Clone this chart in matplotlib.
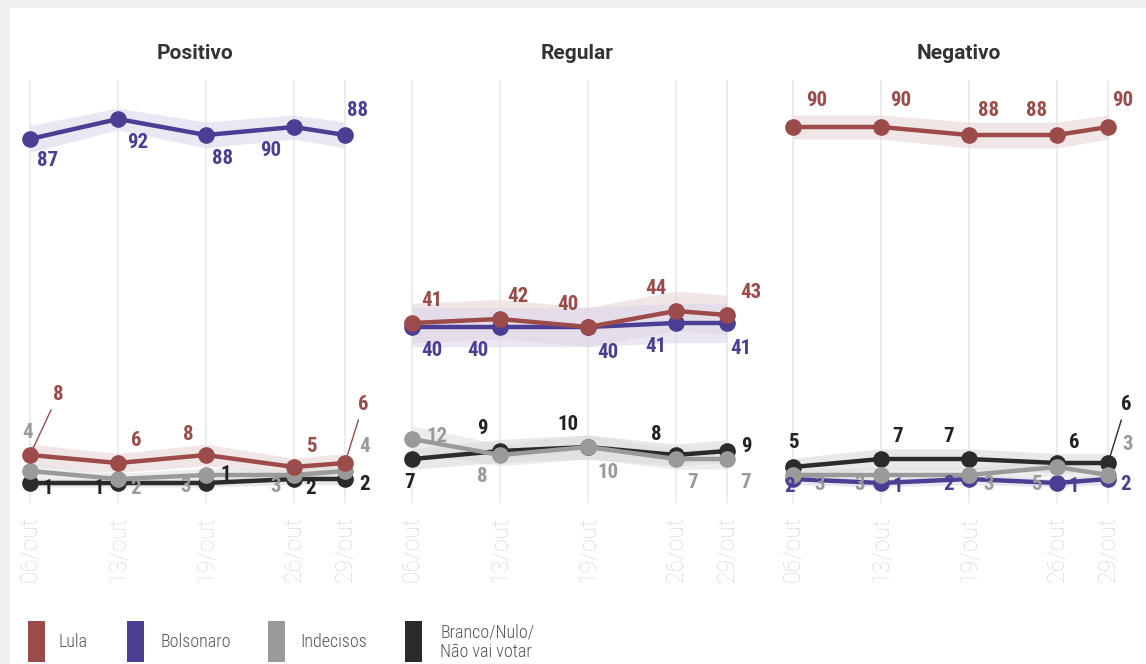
import numpy as np
import matplotlib.pyplot as plt
from matplotlib.patches import Rectangle

# datas das pesquisas
datas = ['06/out', '13/out', '19/out', '26/out', '29/out']
paineis = ['Positivo', 'Regular', 'Negativo']
series = ['Lula', 'Bolsonaro', 'Indecisos', 'Branco/Nulo/\nNão vai votar']

# intenção de voto (%) por avaliação do governo
lula_pos = [8, 6, 8, 5, 6]
bolso_pos = [87, 92, 88, 90, 88]
indec_pos = [4, 2, 3, 3, 4]
branco_pos = [1, 1, 1, 2, 2]

lula_reg = [41, 42, 40, 44, 43]
bolso_reg = [40, 40, 40, 41, 41]
indec_reg = [12, 8, 10, 7, 7]
branco_reg = [7, 9, 10, 8, 9]

lula_neg = [90, 90, 88, 88, 90]
bolso_neg = [2, 1, 2, 1, 2]
indec_neg = [3, 3, 3, 5, 3]
branco_neg = [5, 7, 7, 6, 6]

valores = {
    'Positivo': [lula_pos, bolso_pos, indec_pos, branco_pos],
    'Regular': [lula_reg, bolso_reg, indec_reg, branco_reg],
    'Negativo': [lula_neg, bolso_neg, indec_neg, branco_neg],
}

###############################################################################
cores = ['#9c4b4b', '#4b3f94', '#9a9a9a', '#2b2b2b']
cores_faixa = ['#e8d6d6', '#dcd8ec', '#e2e2e2', '#d9d9d9']
cores_rotulo = ['#9c4b4b', '#4b3f94', '#9a9a9a', '#222222']
ordem_z = [5, 3, 4, 2]

# posicao horizontal de cada data (espacamento do grafico original)
xpos = [0, 1, 2, 3, 3.58]

# deslocamento dos rotulos em pixels (dx, dy para baixo)
desl = {
    'Positivo': [
        [(28, -60), (18, -23), (-18, -20), (17, -20), (18, -58)],
        [(18, 21), (20, 24), (17, 23), (-23, 23), (12, -24)],
        [(-2, -38), (18, 9), (-20, 12), (-18, 12), (20, -24)],
        [(18, 5), (-19, 5), (20, -8), (17, 9), (20, 6)],
    ],
    'Regular': [
        [(20, -23), (18, -23), (-20, -23), (-20, -23), (24, -23)],
        [(20, 23), (-22, 23), (20, 25), (-20, 24), (14, 25)],
        [(25, -2), (-18, 22), (20, 26), (17, 23), (19, 23)],
        [(-2, 24), (-18, -22), (-20, -22), (-20, -20), (19, -4)],
    ],
    'Negativo': [
        [(24, -26), (20, -26), (20, -24), (-20, -24), (15, -27)],
        [(-3, 7), (17, 4), (-20, 6), (17, 4), (18, 5)],
        [(27, 10), (-21, 10), (20, 10), (-21, 18), (20, -30)],
        [(0, -24), (17, -22), (-20, -22), (17, -20), (18, -58)],
    ],
}
# rotulos ligados ao ponto por uma linha fina
com_linha = [('Positivo', 0, 0), ('Positivo', 0, 4), ('Negativo', 3, 4)]

fonte_num = ['Roboto Condensed', 'Roboto', 'DejaVu Sans']
fonte_txt = ['Roboto', 'DejaVu Sans']

###############################################################################
W, H = 1146, 664
fig = plt.figure(figsize=(W / 100, H / 100), dpi=100)
fig.patch.set_facecolor('#efefef')
fig.add_artist(Rectangle((10 / W, 0), 1, (H - 8) / H, transform=fig.transFigure,
                         facecolor='white', edgecolor='none', zorder=0))

lefts = [8, 390, 771]
ax_w = 359
for pi, painel in enumerate(paineis):
    ax = fig.add_axes([lefts[pi] / W, 161 / H, ax_w / W, 423 / H])
    ax.set_facecolor('none')
    ax.set_xlim(-0.25, 3.83)
    ax.set_ylim(-4, 101.75)
    for s in ax.spines.values():
        s.set_visible(False)
    ax.set_yticks([])
    for xx in xpos:
        ax.axvline(xx, color='#ececec', lw=1.3, zorder=0)
    ax.set_xticks(xpos, datas, rotation=90, color='#d8d8d8', fontsize=16.5,
                  family=fonte_txt, fontweight='light')
    ax.tick_params(axis='x', length=0, pad=9)
    ax.text(0.5 + 8 / ax_w, 1.0 + 17 / 423, painel, transform=ax.transAxes,
            ha='center', va='bottom', fontsize=15, fontweight='bold',
            color='#333333', family=fonte_txt)

    for si in range(4):
        v = np.array(valores[painel][si], dtype=float)
        p = v / 100.0
        meia = 10 * np.sqrt(p * (1 - p))
        ax.fill_between(xpos, v - meia, v + meia, color=cores_faixa[si],
                        alpha=0.6, lw=0, zorder=1)
        ax.plot(xpos, v, color=cores[si], lw=3.2, marker='o', markersize=12,
                markeredgewidth=0, zorder=ordem_z[si] + 1)
        for k in range(len(xpos)):
            dx, dy = desl[painel][si][k]
            ap = None
            if (painel, si, k) in com_linha:
                ap = dict(arrowstyle='-', color=cores[si], lw=1,
                          shrinkA=2, shrinkB=0)
            ax.annotate(str(int(v[k])), (xpos[k], v[k]), xytext=(dx, -dy),
                        textcoords='offset pixels', ha='center', va='center',
                        fontsize=15, fontweight='bold', color=cores_rotulo[si],
                        family=fonte_num, fontstretch='condensed',
                        arrowprops=ap, zorder=10)

# legenda
leg_x = [28, 127, 268, 405]
txt_x = [58, 160, 300, 440]
for i in range(4):
    fig.add_artist(Rectangle((leg_x[i] / W, 2 / H), 17 / W, 41 / H,
                             transform=fig.transFigure, facecolor=cores[i],
                             edgecolor='none'))
    fig.text(txt_x[i] / W, 22 / H, series[i], ha='left', va='center',
             fontsize=13, color='#555555', family=fonte_num,
             fontstretch='condensed', fontweight='light', linespacing=1.1)

fig.savefig('out.png', dpi=100, facecolor=fig.get_facecolor())
